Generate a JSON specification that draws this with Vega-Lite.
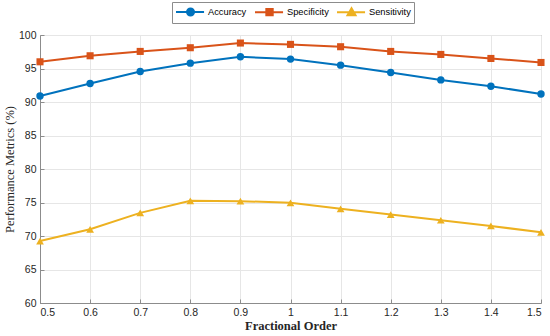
{
  "$schema": "https://vega.github.io/schema/vega-lite/v6.json",
  "width": 501,
  "height": 268,
  "autosize": "none",
  "padding": {"left": 40, "top": 35, "right": 9, "bottom": 33},
  "data": {"values": [
    {"x": 0.5, "metric": "Accuracy", "value": 90.9},
    {"x": 0.6, "metric": "Accuracy", "value": 92.75},
    {"x": 0.7, "metric": "Accuracy", "value": 94.55},
    {"x": 0.8, "metric": "Accuracy", "value": 95.8},
    {"x": 0.9, "metric": "Accuracy", "value": 96.75},
    {"x": 1.0, "metric": "Accuracy", "value": 96.4},
    {"x": 1.1, "metric": "Accuracy", "value": 95.5},
    {"x": 1.2, "metric": "Accuracy", "value": 94.4},
    {"x": 1.3, "metric": "Accuracy", "value": 93.3},
    {"x": 1.4, "metric": "Accuracy", "value": 92.35},
    {"x": 1.5, "metric": "Accuracy", "value": 91.2},
    {"x": 0.5, "metric": "Specificity", "value": 96.0},
    {"x": 0.6, "metric": "Specificity", "value": 96.9},
    {"x": 0.7, "metric": "Specificity", "value": 97.55},
    {"x": 0.8, "metric": "Specificity", "value": 98.1},
    {"x": 0.9, "metric": "Specificity", "value": 98.8},
    {"x": 1.0, "metric": "Specificity", "value": 98.6},
    {"x": 1.1, "metric": "Specificity", "value": 98.25},
    {"x": 1.2, "metric": "Specificity", "value": 97.55},
    {"x": 1.3, "metric": "Specificity", "value": 97.1},
    {"x": 1.4, "metric": "Specificity", "value": 96.5},
    {"x": 1.5, "metric": "Specificity", "value": 95.9},
    {"x": 0.5, "metric": "Sensitivity", "value": 69.25},
    {"x": 0.6, "metric": "Sensitivity", "value": 71.0},
    {"x": 0.7, "metric": "Sensitivity", "value": 73.45},
    {"x": 0.8, "metric": "Sensitivity", "value": 75.25},
    {"x": 0.9, "metric": "Sensitivity", "value": 75.2},
    {"x": 1.0, "metric": "Sensitivity", "value": 74.95},
    {"x": 1.1, "metric": "Sensitivity", "value": 74.05},
    {"x": 1.2, "metric": "Sensitivity", "value": 73.2},
    {"x": 1.3, "metric": "Sensitivity", "value": 72.35},
    {"x": 1.4, "metric": "Sensitivity", "value": 71.5},
    {"x": 1.5, "metric": "Sensitivity", "value": 70.55}
  ]},
  "encoding": {
    "x": {
      "field": "x", "type": "quantitative",
      "scale": {"domain": [0.5, 1.5], "nice": false, "zero": false},
      "axis": {
        "title": "Fractional Order",
        "values": [0.5, 0.6, 0.7, 0.8, 0.9, 1.0, 1.1, 1.2, 1.3, 1.4, 1.5],
        "format": "~g",
        "titleFont": "Liberation Serif", "titleFontSize": 12.5, "titleFontWeight": "bold",
        "titleColor": "#262626", "titlePadding": 2
      }
    },
    "y": {
      "field": "value", "type": "quantitative",
      "scale": {"domain": [60, 100], "nice": false, "zero": false},
      "axis": {
        "title": "Performance Metrics (%)",
        "values": [60, 65, 70, 75, 80, 85, 90, 95, 100],
        "titleFont": "Liberation Serif", "titleFontSize": 12.5, "titleFontWeight": "normal",
        "titleColor": "#262626", "titlePadding": 2
      }
    },
    "color": {
      "field": "metric", "type": "nominal",
      "scale": {"domain": ["Accuracy", "Specificity", "Sensitivity"], "range": ["#0072BD", "#D95319", "#EDB120"]},
      "legend": {
        "title": null,
        "orient": "none",
        "direction": "horizontal",
        "legendX": 132,
        "legendY": -33,
        "symbolSize": 121,
        "symbolStrokeWidth": 2,
        "labelFont": "Liberation Sans",
        "labelFontSize": 9.3,
        "labelColor": "#000000",
        "labelOffset": 20,
        "columnPadding": 4,
        "padding": 3,
        "strokeColor": "#8c8c8c",
        "fillColor": "#ffffff",
        "encode": {
          "symbols": {
            "update": {
              "shape": {"signal": "datum.value === 'Accuracy' ? 'M-1,0H4.1M1.0,0A0.64,0.64,0,1,0,2.28,0A0.64,0.64,0,1,0,1.0,0Z' : datum.value === 'Specificity' ? 'M-1,0H4.1M1.06,-0.58H2.22V0.58H1.06Z' : 'M-1,0H4.1M1.64,-0.72L2.37,0.56H0.91Z'"},
              "fill": {"scale": "color", "field": "value"},
              "stroke": {"scale": "color", "field": "value"},
              "strokeWidth": {"value": 2},
              "opacity": {"value": 1},
              "fillOpacity": {"value": 1}
            }
          }
        }
      }
    }
  },
  "layer": [
    {"mark": {"type": "line", "strokeWidth": 2}},
    {"transform": [{"filter": "datum.metric === 'Accuracy'"}], "mark": {"type": "point", "shape": "circle", "filled": true, "opacity": 1, "size": 55}},
    {"transform": [{"filter": "datum.metric === 'Specificity'"}], "mark": {"type": "point", "shape": "square", "filled": true, "opacity": 1, "size": 50}},
    {"transform": [{"filter": "datum.metric === 'Sensitivity'"}], "mark": {"type": "point", "shape": "triangle-up", "filled": true, "opacity": 1, "size": 60}}
  ],
  "config": {
    "view": {"stroke": "#8c8c8c", "strokeWidth": 1},
    "axis": {
      "domainColor": "#8c8c8c",
      "tickColor": "#8c8c8c",
      "tickSize": -4,
      "gridColor": "#e6e6e6",
      "gridOpacity": 1,
      "labelFont": "Liberation Sans",
      "labelFontSize": 10.5,
      "labelColor": "#262626",
      "labelPadding": 8
    }
  }
}
